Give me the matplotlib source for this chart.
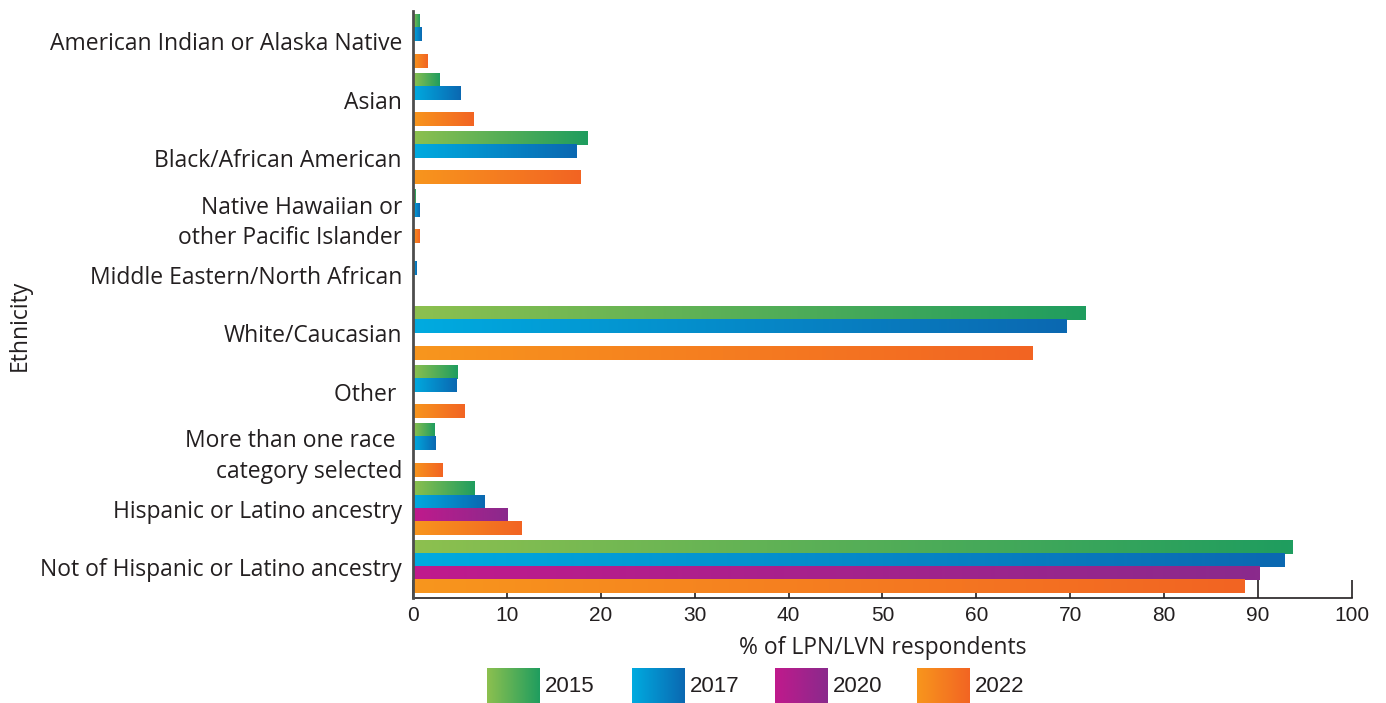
import numpy as np
import matplotlib
matplotlib.use("Agg")
from matplotlib import pyplot as plt
from matplotlib.colors import LinearSegmentedColormap

plt.rcParams['font.family'] = ['Liberation Sans', 'DejaVu Sans']

categories = ["American Indian or Alaska Native", "Asian", "Black/African American",
              "Native Hawaiian or\nother Pacific Islander", "Middle Eastern/North African",
              "White/Caucasian", "Other ", "More than one race \ncategory selected",
              "Hispanic or Latino ancestry", "Not of Hispanic or Latino ancestry"]
years = ["2015", "2017", "2020", "2022"]
v2015 = [0.7, 2.8, 18.6, 0.3, np.nan, 71.6, 4.7, 2.3, 6.5, 93.7]
v2017 = [0.9, 5.1, 17.4, 0.7, 0.35, 69.6, 4.6, 2.4, 7.6, 92.8]
v2020 = [np.nan] * 8 + [10.1, 90.1]
v2022 = [1.5, 6.4, 17.8, 0.7, np.nan, 66.0, 5.5, 3.1, 11.6, 88.6]
series = [v2015, v2017, v2020, v2022]

# gradient start / end colours per year
grads = [("#8dc04f", "#1f9d5f"), ("#00abe0", "#0b68b1"),
         ("#c01a8c", "#8a2a8c"), ("#f8961d", "#f26423")]

fig = plt.figure(figsize=(13.86, 7.03), dpi=100)
W, H = 1386, 703
ax = fig.add_axes([413 / W, 1 - 598 / H, (1352 - 413) / W, (598 - 11) / H])

h = 0.225
grad = np.linspace(0, 1, 256).reshape(1, -1)
for k, vals in enumerate(series):
    cmap = LinearSegmentedColormap.from_list("g%d" % k, grads[k])
    for i, v in enumerate(vals):
        if np.isnan(v):
            continue
        y = i + (k - 1.5) * h
        # bar outline is invisible, the gradient image fills the same box
        ax.barh(y, v, height=h, color="none", edgecolor="none")
        ax.imshow(grad, cmap=cmap, aspect="auto", interpolation="bilinear",
                  extent=[0, v, y - h / 2, y + h / 2], zorder=3)

ax.set_xlim(0, 100)
ax.set_ylim(9.53, -0.52)
ax.set_xticks(range(0, 101, 10))
ax.set_yticks(range(len(categories)))
ax.set_yticklabels(categories, fontsize=16.5, color="#231f20", ha="right",
                   multialignment="right", linespacing=1.35,
                   family=["Open Sans", "DejaVu Sans"])
ax.tick_params(axis="y", length=0, pad=8)
ax.tick_params(axis="x", direction="in", length=13, width=1.2, color="#231f20",
               labelsize=15, labelcolor="#231f20", pad=6)
for s in ["top", "right"]:
    ax.spines[s].set_visible(False)
ax.spines["left"].set_color("#4d4d4d")
ax.spines["left"].set_linewidth(2)
ax.spines["left"].set_zorder(4)
ax.spines["bottom"].set_color("#231f20")
ax.spines["bottom"].set_linewidth(1.2)
ax.set_xlabel("% of LPN/LVN respondents", fontsize=16.5, color="#231f20", labelpad=8,
              family=["Open Sans", "DejaVu Sans"])
fig.text(20 / W, 1 - 325 / H, "Ethnicity", rotation=90, fontsize=16.5, color="#231f20",
         ha="center", va="center", family=["Open Sans", "DejaVu Sans"])

# legend with gradient swatches
sw_x = [487, 632, 775, 917]
for k, yr in enumerate(years):
    cmap = LinearSegmentedColormap.from_list("l%d" % k, grads[k])
    lax = fig.add_axes([sw_x[k] / W, 1 - 703 / H, 53 / W, 35 / H])
    lax.imshow(grad, cmap=cmap, aspect="auto", interpolation="bilinear")
    lax.axis("off")
    fig.text((sw_x[k] + 58) / W, 1 - 686 / H, yr, fontsize=16, color="#231f20",
             ha="left", va="center")

fig.savefig("out.png", dpi=100, facecolor="white")
